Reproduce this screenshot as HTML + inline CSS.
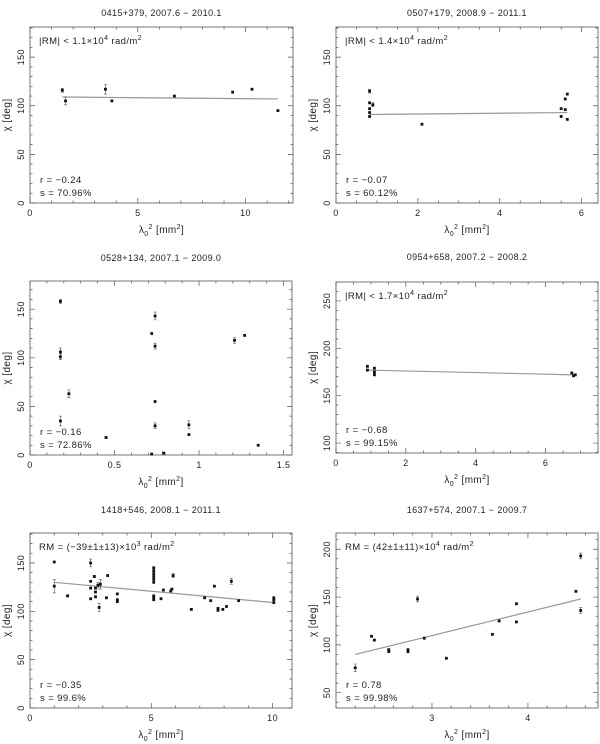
<!DOCTYPE html>
<html><head><meta charset="utf-8"><style>
body{margin:0;background:#fff;}
svg{display:block;font-family:"Liberation Sans",sans-serif;}
svg text{letter-spacing:0.4px;}
</style></head><body>
<svg id="fig" width="600" height="744"></svg>
<script>
// ---- data arrays ----
const titles=["0415+379, 2007.6 \u2212 2010.1","0507+179, 2008.9 \u2212 2011.1","0528+134, 2007.1 \u2212 2009.0","0954+658, 2007.2 \u2212 2008.2","1418+546, 2008.1 \u2212 2011.1","1637+574, 2007.1 \u2212 2009.7"];
const rmTexts=[["|RM| < 1.1\u00d710","4"],["|RM| < 1.4\u00d710","4"],null,["|RM| < 1.7\u00d710","4"],["RM = (\u221239\u00b11\u00b113)\u00d710","3"],["RM = (42\u00b11\u00b111)\u00d710","4"]];
const rVals=["\u22120.24","\u22120.07","\u22120.16","\u22120.68","\u22120.35","0.78"];
const sVals=["70.96%","60.12%","72.86%","99.15%","99.6%","99.98%"];
const xTicks=[[0,5,10],[0,2,4,6],[0,0.5,1,1.5],[0,2,4,6],[0,5,10],[3,4]];
const xTickLabels=[["0","5","10"],["0","2","4","6"],["0","0.5","1","1.5"],["0","2","4","6"],["0","5","10"],["3","4"]];
const yTicks=[[0,50,100,150],[0,50,100,150],[0,50,100,150],[100,150,200,250],[0,50,100,150],[50,100,150,200]];
const p1X=[1.5,1.65,3.5,3.8,6.7,9.4,10.3,11.5];
const p1Y=[116,105,117,105,110,114,117,95];
const p1E=[2,4,5,0,0,0,1,0];
const p2X=[0.82,0.82,0.82,0.82,0.82,0.9,2.1,5.5,5.5,5.6,5.6,5.65,5.65];
const p2Y=[115,103,97,93,89,101,81,97,89,107,96,112,86];
const p2E=[2,0,0,0,0,2,0,0,0,0,0,0,0];
const p3X=[0.18,0.18,0.18,0.18,0.23,0.45,0.72,0.74,0.74,0.74,0.74,0.72,0.79,0.94,0.94,1.21,1.27,1.35];
const p3Y=[158,106,101,35,63,18,125,143,112,55,30,1,2,31,21,118,123,10];
const p3E=[2,4,3,5,4,1,0,4,3,0,3,0,0,4,0,3,0,0];
const p4X=[0.9,0.9,1.1,1.1,1.1,6.75,6.85,6.8];
const p4Y=[181,177,179,175,172,174,172,171];
const p4E=[0,0,0,0,0,0,0,0];
const p5X=[1.0,1.0,1.55,2.5,2.5,2.5,2.5,2.65,2.7,2.7,2.7,2.8,2.85,2.9,3.2,3.15,3.6,3.6,3.6,5.1,5.1,5.1,5.1,5.1,5.1,5.1,5.1,5.1,5.5,5.4,5.8,5.85,5.9,6.65,7.2,7.45,7.6,7.75,7.75,7.95,8.1,8.3,8.6,10.05,10.05,10.05];
const p5Y=[151,126,116,150,131,124,113,136,124,120,115,127,104,128,137,114,118,112,110,145,142,139,136,133,130,116,114,112,122,113,121,123,137,102,114,111,126,103,101,102,105,131,111,114,112,109];
const p5E=[0,7,1,4,0,0,0,1,0,0,0,3,4,5,0,0,0,0,0,0,0,0,0,0,0,0,0,0,0,0,0,0,2,1,0,0,0,0,0,0,0,3,0,0,0,0];
const p6X=[2.2,2.37,2.4,2.55,2.55,2.75,2.75,2.85,2.92,3.15,3.63,3.7,3.88,3.88,4.5,4.55,4.55];
const p6Y=[76,109,105,95,93,95,93,148,107,86,111,125,143,124,156,193,136];
const p6E=[4,0,0,0,0,0,0,3,0,0,0,0,0,0,0,3,3];
const fitX=[[1.5,11.5],[0.82,5.65],null,[0.9,6.85],[1.0,10.05],[2.2,4.55]];
const fitY=[[109,107],[91,93],null,[177,172],[130,109],[90,148]];
const xs=[p1X,p2X,p3X,p4X,p5X,p6X], ys=[p1Y,p2Y,p3Y,p4Y,p5Y,p6Y], es=[p1E,p2E,p3E,p4E,p5E,p6E];
// ---- layout ----
const frames=[[30,293,27,203],[336,598,27,203],[30,292,281,455],[336,598,282,453],[30,292,533,708],[336,598,533,708]];
const xDom=[[0,12.2],[0,6.4],[0,1.55],[0,7.5],[0,10.8],[2.0,4.73]];
const yDom=[[0,181],[0,181],[0,179],[89.5,270],[0,181],[34,217]];
const xMinor=[1,0.5,0.1,0.5,1,0.2];
const yMinor=[10,10,10,10,10,10];
const titleY=[16,16,261,260,513,513];
const NS="http://www.w3.org/2000/svg";
const svg=document.getElementById('fig');
function mk(tag,attrs,parent){const e=document.createElementNS(NS,tag);for(const k in attrs)e.setAttribute(k,attrs[k]);(parent||svg).appendChild(e);return e;}
const names=["p0415","p0507","p0528","p0954","p1418","p1637"];
for(let i=0;i<6;i++){
  const [L,R,T,B]=frames[i];
  const sx=v=>L+(v-xDom[i][0])/(xDom[i][1]-xDom[i][0])*(R-L);
  const sy=v=>B-(v-yDom[i][0])/(yDom[i][1]-yDom[i][0])*(B-T);
  const g=mk('g',{});
  
  
  const t=mk('text',{x:(L+R)/2,y:titleY[i],'text-anchor':'middle','font-size':'9',fill:'#222'},g);
  t.textContent=titles[i];
  
  
  const fr=mk('rect',{x:L,y:T,width:R-L,height:B-T,fill:'none',stroke:'#555','stroke-width':'0.8'},g);
  
  
  let d='';
  const x0=Math.ceil(xDom[i][0]/xMinor[i]-1e-9);
  for(let k=x0;k*xMinor[i]<=xDom[i][1]+1e-9;k++){const v=k*xMinor[i];const X=sx(v);const maj=xTicks[i].some(m=>Math.abs(m-v)<1e-6);const len=maj?5:2.5;d+=`M${X},${B}v${-len}M${X},${T}v${len}`;}
  const y0=Math.ceil(yDom[i][0]/yMinor[i]);
  for(let k=y0;k*yMinor[i]<=yDom[i][1];k++){const v=k*yMinor[i];const Y=sy(v);const maj=yTicks[i].includes(v);const len=maj?5:2.5;d+=`M${L},${Y}h${len}M${R},${Y}h${-len}`;}
  const tk=mk('path',{d:d,stroke:'#555','stroke-width':'0.7',fill:'none'},g);
  
  
  xTicks[i].forEach((v,j)=>{const e=mk('text',{x:sx(v),y:B+13,'text-anchor':'middle','font-size':'9',fill:'#222'},g);e.textContent=xTickLabels[i][j];
    
    });
  yTicks[i].forEach(v=>{const Y=sy(v);const e=mk('text',{x:L-6,y:Y,'text-anchor':'middle','font-size':'9',fill:'#222',transform:`rotate(-90 ${L-6} ${Y})`},g);e.textContent=String(v);
    
    });
  const xl=mk('text',{x:(L+R)/2,y:B+30,'text-anchor':'middle','font-size':'10',fill:'#222'},g);
  xl.innerHTML='\u03bb<tspan font-size="7" dy="3">0</tspan><tspan font-size="7" dy="-7">2</tspan><tspan dy="4"> [mm</tspan><tspan font-size="7" dy="-4">2</tspan><tspan dy="4">]</tspan>';
  
  
  const yl=mk('text',{x:L-20,y:(T+B)/2,'text-anchor':'middle','font-size':'10',fill:'#222',transform:`rotate(-90 ${L-20} ${(T+B)/2})`},g);
  yl.textContent='\u03c7 [deg]';
  
  
  if(rmTexts[i]){const e=mk('text',{x:L+9,y:T+17,'font-size':'9.5',fill:'#222'},g);
    e.innerHTML=rmTexts[i][0]+'<tspan font-size="7" dy="-4">'+rmTexts[i][1]+'</tspan><tspan dy="4"> rad/m</tspan><tspan font-size="7" dy="-4">2</tspan>';
    
    }
  const r=mk('text',{x:L+10,y:B-20,'font-size':'9.5',fill:'#222'},g);r.textContent='r = '+rVals[i];
  
  
  const s=mk('text',{x:L+10,y:B-7,'font-size':'9.5',fill:'#222'},g);s.textContent='s = '+sVals[i];
  
  
  if(fitX[i]){const f=mk('line',{x1:sx(fitX[i][0]),y1:sy(fitY[i][0]),x2:sx(fitX[i][1]),y2:sy(fitY[i][1]),stroke:'#999','stroke-width':'1.2'},g);
    
    }
  xs[i].forEach((xv,j)=>{const X=sx(xv),Y=sy(ys[i][j]);
    if(es[i][j]>0){const eb=mk('path',{d:`M${X},${sy(ys[i][j]-es[i][j])}V${sy(ys[i][j]+es[i][j])}M${X-1.5},${sy(ys[i][j]-es[i][j])}h3M${X-1.5},${sy(ys[i][j]+es[i][j])}h3`,stroke:'#555','stroke-width':'0.6',fill:'none'},g);
      
      }
    const p=mk('rect',{x:X-1.4,y:Y-1.4,width:2.8,height:2.8,fill:'#111'},g);
    
    
  });
}
</script>
</body></html>
